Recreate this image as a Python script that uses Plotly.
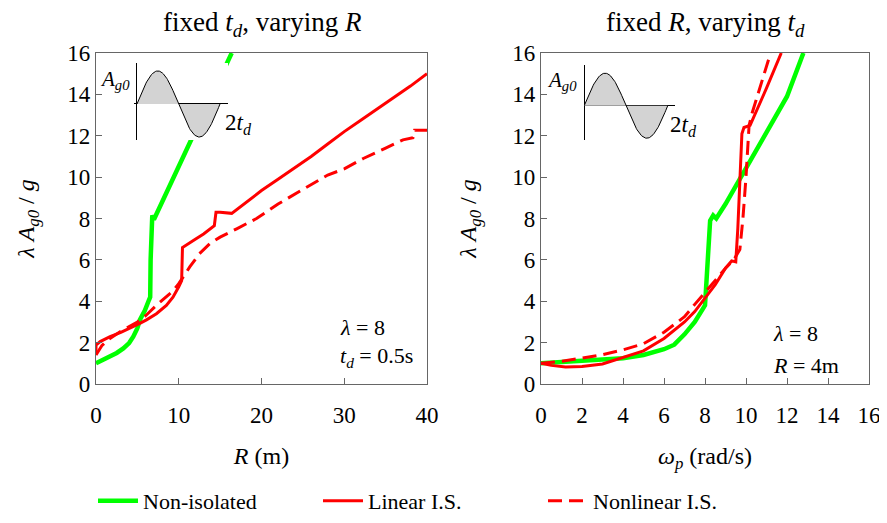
import numpy as np
import plotly.graph_objects as go

# ---------------- data: left panel (fixed t_d, varying R) ----------------
R_noniso = [0, 0.5, 1.0, 1.7, 2.5, 3.3, 4.0, 4.5, 5.0, 5.3, 5.9, 6.4, 6.55, 6.6, 6.7, 6.8, 7.0, 8, 10, 12, 14, 16.4]
v_noniso_R = [1.0, 1.1, 1.18, 1.32, 1.5, 1.72, 1.98, 2.29, 2.7, 3.1, 3.55, 4.06, 4.2, 6.0, 8.1, 8.15, 7.95, 8.8, 10.5, 12.2, 13.9, 16.0]

R_lin = [0, 0.0, 0.5, 1.0, 1.7, 3.0, 4.1, 5.3, 6.1, 7.3, 8.5, 9.3, 10.0, 10.35, 10.45, 11, 12, 13, 14.3, 14.5, 15, 16.4,
         18, 20, 22, 24, 26, 28, 30, 32, 34, 36, 38, 40]
v_lin_R = [1.5, 1.88, 2.05, 2.15, 2.29, 2.5, 2.69, 2.93, 3.1, 3.4, 3.8, 4.2, 4.7, 5.0, 6.6, 6.75, 7.0, 7.25, 7.65, 8.3, 8.3, 8.25,
           8.75, 9.35, 9.9, 10.45, 11.0, 11.6, 12.2, 12.75, 13.3, 13.85, 14.4, 15.0]

R_nonlin = [0, 0.7, 1.5, 3.0, 5.0, 6.0, 7.3, 8.5, 9.3, 10.0, 11.35, 12.5, 13.8, 15.0, 16.2, 17.0, 19.4, 22, 25.4, 28, 30,
            32.3, 35, 37.1, 38.3, 38.5, 40]
v_nonlin_R = [1.4, 1.85, 2.15, 2.55, 3.0, 3.3, 3.8, 4.2, 4.5, 4.85, 5.67, 6.3, 6.8, 7.1, 7.36, 7.5, 8.0, 8.7, 9.5, 10.1, 10.4,
              10.9, 11.4, 11.8, 11.9, 12.27, 12.27]

# ---------------- data: right panel (fixed R, varying t_d) ----------------
w_noniso = [0, 1, 2, 3, 4, 5, 6, 6.5, 7, 7.5, 8.0, 8.05, 8.15, 8.25, 8.4, 8.55, 9, 10, 11.3, 12, 12.8]
v_noniso_w = [1.0, 1.05, 1.1, 1.18, 1.25, 1.4, 1.68, 1.9, 2.4, 3.0, 3.8, 4.6, 6.5, 7.9, 8.15, 8.0, 8.7, 10.4, 12.7, 13.9, 16.0]

w_lin = [0, 0.5, 1.2, 2, 3, 4, 5, 6, 7, 7.5, 8, 8.5, 9, 9.3, 9.5, 9.6, 9.7, 9.8, 9.9, 10.2, 11, 11.72]
v_lin_w = [1.0, 0.9, 0.82, 0.85, 0.97, 1.28, 1.6, 2.2, 3.0, 3.5, 4.15, 4.8, 5.6, 5.95, 5.9, 7.5, 9.8, 12.1, 12.4, 12.5, 14.3, 16.0]

w_nonlin = [0, 1, 2, 3, 4, 5, 6, 7, 7.5, 8, 8.5, 9, 9.4, 9.7, 9.85, 10.0, 10.15, 10.3, 11.2]
v_nonlin_w = [1.0, 1.1, 1.25, 1.42, 1.65, 1.95, 2.5, 3.25, 3.85, 4.4, 5.0, 5.6, 6.0, 6.5, 8.0, 10.0, 12.5, 13.1, 16.0]

x_ticks_R = [0, 10, 20, 30, 40]
x_ticks_w = [0, 2, 4, 6, 8, 10, 12, 14, 16]
y_ticks = [0, 2, 4, 6, 8, 10, 12, 14, 16]

names = ["Non-isolated", "Linear I.S.", "Nonlinear I.S."]

GREEN = "#00ff00"
RED = "#ff0000"
FONT = "Liberation Serif, Times New Roman, serif"
OFF = 8                      # browser body margin
W, H = 887 - 2 * OFF, 523 - 2 * OFF

def px(x):
    return (x - OFF) / W

def py(y):
    return 1 - (y - OFF) / H

fig = go.Figure()

# left panel
fig.add_trace(go.Scatter(x=R_noniso, y=v_noniso_R, mode="lines", name=names[0],
                         line=dict(color=GREEN, width=4.5), xaxis="x", yaxis="y", legendrank=1))
fig.add_trace(go.Scatter(x=R_nonlin, y=v_nonlin_R, mode="lines", name=names[2],
                         line=dict(color=RED, width=3, dash="14px,7px"), xaxis="x", yaxis="y", legendrank=3))
fig.add_trace(go.Scatter(x=R_lin, y=v_lin_R, mode="lines", name=names[1],
                         line=dict(color=RED, width=3), xaxis="x", yaxis="y", legendrank=2))
# right panel
fig.add_trace(go.Scatter(x=w_noniso, y=v_noniso_w, mode="lines", showlegend=False,
                         line=dict(color=GREEN, width=4.5), xaxis="x2", yaxis="y2"))
fig.add_trace(go.Scatter(x=w_nonlin, y=v_nonlin_w, mode="lines", showlegend=False,
                         line=dict(color=RED, width=3, dash="14px,7px"), xaxis="x2", yaxis="y2"))
fig.add_trace(go.Scatter(x=w_lin, y=v_lin_w, mode="lines", showlegend=False,
                         line=dict(color=RED, width=3), xaxis="x2", yaxis="y2"))

# inset sine pulses (schematic of the ground motion)
t = np.linspace(0, 2, 121)
pulse = np.sin(np.pi * t)
for xa, ya in (("x3", "y3"), ("x4", "y4")):
    fig.add_trace(go.Scatter(x=t, y=pulse, mode="lines", showlegend=False, fill="tozeroy",
                             fillcolor="#d3d3d3", line=dict(color="black", width=1),
                             xaxis=xa, yaxis=ya, hoverinfo="skip"))

axis_common = dict(showline=True, linecolor="#666666", linewidth=1.2, mirror=True, ticks="inside",
                   ticklen=6, tickcolor="#666666", showgrid=False, zeroline=False,
                   tickfont=dict(family=FONT, size=23, color="black"), automargin=False,
                   ticklabeloverflow="allow")

ydom = [py(384), py(53)]
title_font = dict(family=FONT, size=24, color="black")
ytitle = "<i>λ A</i><sub><i>g0</i></sub> / <i>g</i>"

layout = dict(
    width=W, height=H, template="none",
    paper_bgcolor="white", plot_bgcolor="white",
    margin=dict(l=0, r=0, t=0, b=0, autoexpand=False),
    font=dict(family=FONT, size=22, color="black"),
    xaxis=dict(domain=[px(96), px(427)], range=[0, 40], tickvals=x_ticks_R, anchor="y", ticklabelstandoff=10,
               title=dict(text="<i>R</i> (m)", font=title_font, standoff=20), **axis_common),
    yaxis=dict(domain=ydom, range=[0, 16], tickvals=y_ticks, anchor="x",
               title=dict(text=ytitle, font=title_font, standoff=25), **axis_common),
    xaxis2=dict(domain=[px(541), px(869)], range=[0, 16], tickvals=x_ticks_w, anchor="y2", ticklabelstandoff=10,
                title=dict(text="<i>ω</i><sub><i>p</i></sub> (rad/s)", font=title_font, standoff=20), **axis_common),
    yaxis2=dict(domain=ydom, range=[0, 16], tickvals=y_ticks, anchor="x2",
                title=dict(text=ytitle, font=title_font, standoff=28), **axis_common),
)

inset_common = dict(showline=False, showgrid=False, showticklabels=False, ticks="",
                    zeroline=True, zerolinecolor="black", zerolinewidth=1, fixedrange=True)
layout["xaxis3"] = dict(domain=[px(134), px(228)], range=[-0.072, 2.193], anchor="y3", **inset_common)
layout["yaxis3"] = dict(domain=[py(140), py(63)], range=[-1.09, 1.24], anchor="x3", **inset_common)
layout["xaxis4"] = dict(domain=[px(584), px(675)], range=[-0.005, 2.174], anchor="y4", **inset_common)
layout["yaxis4"] = dict(domain=[py(140), py(65)], range=[-1.055, 1.252], anchor="x4", **inset_common)

layout["legend"] = dict(orientation="h", x=px(93), y=py(501), xanchor="left", yanchor="middle",
                        font=dict(family=FONT, size=22, color="black"), entrywidth=170,
                        bgcolor="rgba(0,0,0,0)", itemwidth=40)

ann = []
def add_text(text, x, y, xanchor="center", size=22):
    ann.append(dict(text=text, x=px(x), y=py(y), xref="paper", yref="paper", xanchor=xanchor,
                    yanchor="middle", showarrow=False, font=dict(family=FONT, size=size, color="black")))

add_text("fixed <i>t</i><sub><i>d</i></sub>, varying <i>R</i>", 262, 24, size=27)
add_text("fixed <i>R</i>, varying <i>t</i><sub><i>d</i></sub>", 705, 24, size=27)
add_text("<i>λ</i> = 8", 338, 327, "left")
add_text("<i>t</i><sub><i>d</i></sub> = 0.5s", 338, 357, "left")
add_text("<i>λ</i> = 8", 771, 333, "left")
add_text("<i>R</i> = 4m", 771, 365, "left")
add_text("<i>A</i><sub><i>g0</i></sub>", 132, 80, "right", size=21)
add_text("2<i>t</i><sub><i>d</i></sub>", 223, 124, "left", size=23)
add_text("<i>A</i><sub><i>g0</i></sub>", 579, 81, "right", size=21)
add_text("2<i>t</i><sub><i>d</i></sub>", 668, 126, "left", size=23)
layout["annotations"] = ann

fig.update_layout(**layout)
fig.write_html("out.html")
